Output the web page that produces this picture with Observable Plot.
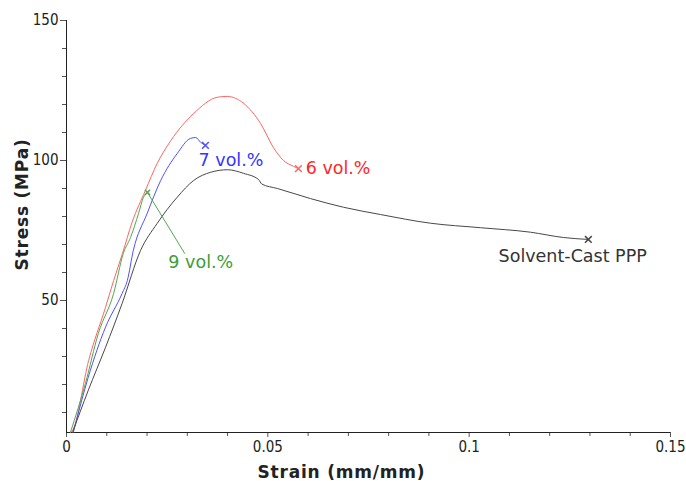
<!DOCTYPE html>
<html><head><meta charset="utf-8">
<script src="https://cdn.jsdelivr.net/npm/d3@7"></script>
<script src="https://cdn.jsdelivr.net/npm/@observablehq/plot@0.6"></script>
<style>body{margin:0;background:#fff}#chart svg{display:block}</style>
</head><body><div id="chart"></div>
<script>
// 6 vol.%
const strain6 = [0.001, 0.0015, 0.0055, 0.0097, 0.0117, 0.0139, 0.0163, 0.0196, 0.0225, 0.0259, 0.0316, 0.0375, 0.0399, 0.044, 0.0482, 0.0514, 0.0539, 0.0564, 0.0576];
const stress6 = [2.9, 3.6, 28.6, 47.6, 57.1, 66.8, 78, 89.3, 98.9, 107.1, 116.8, 122.6, 122.9, 120.4, 113.2, 104.6, 100, 97.9, 97.1];
// 7 vol.%
const strain7 = [0.0017, 0.0054, 0.0097, 0.0138, 0.0151, 0.0166, 0.02, 0.0234, 0.0275, 0.0308, 0.0321, 0.0333, 0.0345];
const stress7 = [2.9, 22.6, 40.5, 52.5, 57.1, 67.9, 81, 92.9, 102.5, 107.9, 108.2, 106.5, 105.4];
// 9 vol.%
const strain9 = [0.001, 0.0047, 0.0079, 0.0117, 0.0141, 0.0159, 0.0179, 0.0191, 0.0201];
const stress9 = [3, 20.4, 38.2, 52.5, 66.8, 72.5, 81.1, 86.8, 88.6];
// Solvent-Cast PPP
const strainPPP = [0.0015, 0.0054, 0.0097, 0.0138, 0.0184, 0.0225, 0.0275, 0.0316, 0.0358, 0.04, 0.044, 0.0477, 0.0485, 0.0524, 0.0606, 0.0688, 0.078, 0.0904, 0.1028, 0.1152, 0.1234, 0.1296];
const stressPPP = [2.9, 17.9, 33.3, 48.9, 67.9, 77.5, 86.9, 92.9, 95.8, 96.7, 95.4, 93.2, 91.6, 90, 86.4, 83.3, 80.7, 77.6, 76, 74.4, 72.5, 71.8];

const seriesNames = ["6 vol.%", "7 vol.%", "9 vol.%", "Solvent-Cast PPP"];
const lineColors = ["#ff6464", "#5050ff", "#50a850", "#484848"];
const textColors = ["#ff2626", "#3434ff", "#3a9e3a", "#333333"];

const xMajorTicks = [0, 0.05, 0.1, 0.15];
const xMinorTicks = [0.01, 0.02, 0.03, 0.04, 0.06, 0.07, 0.08, 0.09, 0.11, 0.12, 0.13, 0.14];
const yMajorTicks = [50, 100, 150];
const yMinorTicks = [10, 20, 30, 40, 60, 70, 80, 90, 110, 120, 130, 140];

// label anchor positions (data units)
const labelX = [0.0594, 0.0328, 0.0253, 0.1073];
const labelY = [97.1, 100, 63.6, 65.7];
// green leader line
const leaderX = [0.0201, 0.0294];
const leaderY = [88.6, 66.7];

const xs = [strain6, strain7, strain9, strainPPP];
const ys = [stress6, stress7, stress9, stressPPP];
const rows = [];
xs.forEach((arr, i) => arr.forEach((x, j) => rows.push({series: seriesNames[i], strain: x, stress: ys[i][j]})));
const ends = xs.map((arr, i) => ({series: seriesNames[i], strain: arr[arr.length - 1], stress: ys[i][ys[i].length - 1], r: i === 2 ? 2.5 : 4}));
const labels = seriesNames.map((s, i) => ({series: s, x: labelX[i], y: labelY[i], color: textColors[i]}));
const leader = [{x1: leaderX[0], y1: leaderY[0], x2: leaderX[1], y2: leaderY[1]}];

const yMin = 2.86;
const tickFont = "'DejaVu Sans Condensed', 'DejaVu Sans', sans-serif";

const chart = Plot.plot({
  width: 686,
  height: 481,
  marginLeft: 66,
  marginRight: 16,
  marginTop: 20,
  marginBottom: 49,
  style: {fontFamily: "'DejaVu Sans', sans-serif", color: "#222", background: "#fff"},
  x: {domain: [0, 0.15]},
  y: {domain: [yMin, 150]},
  color: {domain: seriesNames, range: lineColors},
  marks: [
    Plot.axisX(xMinorTicks, {tickSize: 4, tickFormat: () => "", label: null, stroke: "#555"}),
    Plot.axisX(xMajorTicks, {tickSize: 5, tickPadding: 4, tickFormat: d => String(d), fontSize: 15, fontFamily: tickFont, label: null, stroke: "#555"}),
    Plot.axisY(yMinorTicks, {tickSize: 4, tickFormat: () => "", label: null, stroke: "#555"}),
    Plot.axisY(yMajorTicks, {tickSize: 6, tickPadding: 2, tickFormat: d => String(d), fontSize: 15, fontFamily: tickFont, label: null, stroke: "#555"}),
    Plot.ruleX([0], {stroke: "#222"}),
    Plot.ruleY([yMin], {stroke: "#222"}),
    Plot.line(rows, {x: "strain", y: "stress", z: "series", stroke: "series", strokeWidth: 1, curve: "monotone-x"}),
    Plot.link(leader, {x1: "x1", y1: "y1", x2: "x2", y2: "y2", stroke: lineColors[2], strokeWidth: 1}),
    Plot.dot(ends, {x: "strain", y: "stress", stroke: "series", symbol: "times", r: "r", strokeWidth: 1.5}),
    Plot.text(labels, {x: "x", y: "y", text: "series", fill: d => d.color, textAnchor: "start", fontSize: 17.5}),
    Plot.text(["Stress (MPa)"], {frameAnchor: "left", textAnchor: "middle", dx: -44, dy: -22, rotate: -90, fontWeight: "bold", fontSize: 17, fill: "#222", className: "axtitle"}),
    Plot.text(["Strain (mm/mm)"], {frameAnchor: "bottom", textAnchor: "middle", dx: -27, dy: 45, fontWeight: "bold", fontSize: 17, fill: "#222", className: "axtitle"})
  ]
});
chart.querySelectorAll(".axtitle text").forEach(t => t.style.letterSpacing = "0.8px");
document.getElementById("chart").append(chart);
</script>
</body></html>
